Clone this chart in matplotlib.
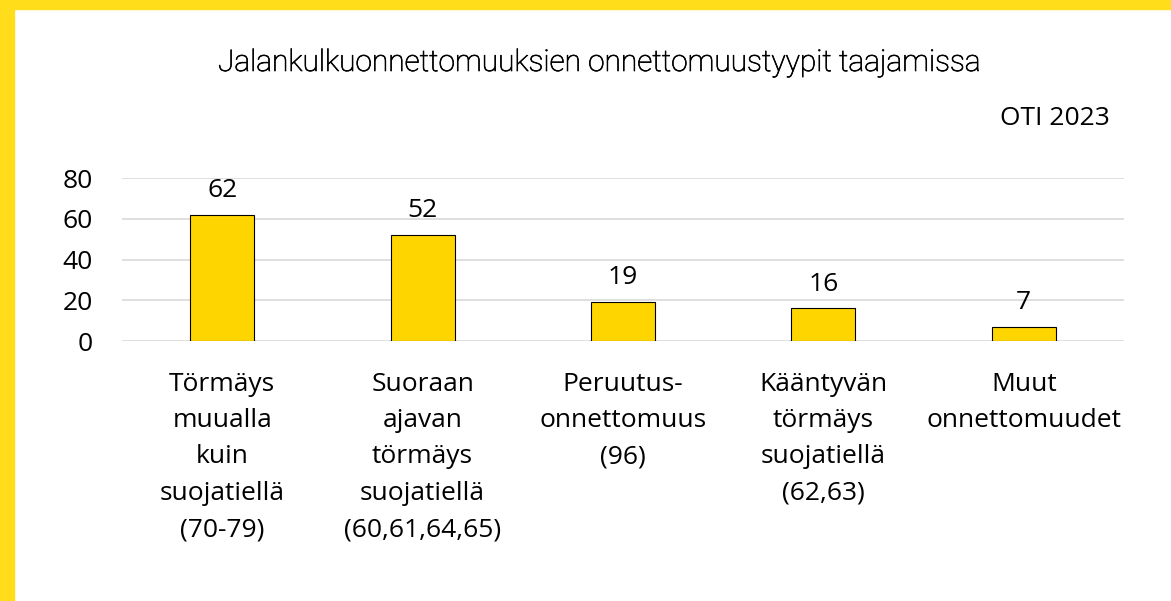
import matplotlib
matplotlib.use('Agg')
import matplotlib.pyplot as plt
import matplotlib.patheffects as pe
from matplotlib.patches import Rectangle

categories = ['Törmäys\nmuualla\nkuin\nsuojatiellä\n(70-79)',
              'Suoraan\najavan\ntörmäys\nsuojatiellä\n(60,61,64,65)',
              'Peruutus-\nonnettomuus\n(96)',
              'Kääntyvän\ntörmäys\nsuojatiellä\n(62,63)',
              'Muut\nonnettomuudet']
values = [62, 52, 19, 16, 7]
yticks = [0, 20, 40, 60, 80]

plt.rcParams['font.family'] = ['Open Sans', 'DejaVu Sans']

fig = plt.figure(figsize=(11.71, 6.01), dpi=100)
ax = fig.add_axes([122/1171, 1 - 341/601, (1124-122)/1171, (341-178)/601])

x = range(len(values))
bars = ax.bar(x, values, width=0.32, color='#FFD500', edgecolor='black', linewidth=0.8, zorder=3)
for i, v in enumerate(values):
    ax.annotate(str(v), (i, v), xytext=(0, 8.5), textcoords='offset points',
                ha='center', va='bottom', fontsize=19)

ax.set_xlim(-0.5, len(values) - 0.5)
ax.set_ylim(0, 80)
ax.set_yticks(yticks)
ax.set_xticks(list(x))
ax.set_xticklabels(categories, fontsize=19, linespacing=1.6)
ax.tick_params(axis='y', length=0, pad=21, labelsize=19)
ax.tick_params(axis='x', length=0, pad=22)
ax.grid(axis='y', color='#D9D9D9', linewidth=1.2, zorder=0)
for s in ax.spines.values():
    s.set_visible(False)

fig.text(600/1171, 1 - 63/601, 'Jalankulkuonnettomuuksien onnettomuustyypit taajamissa',
         ha='center', va='center', fontsize=21.5, family='Roboto', weight='light',
         color='black', path_effects=[pe.withStroke(linewidth=0.5, foreground='black')])
fig.text(1110/1171, 1 - 118/601, 'OTI 2023', ha='right', va='center', fontsize=19)

# yellow frame at left and top
fig.patches.append(Rectangle((0, 0), 14/1171, 1, transform=fig.transFigure,
                             color='#FFDD1A', zorder=0))
fig.patches.append(Rectangle((0, 1 - 9/601), 1, 9/601, transform=fig.transFigure,
                             color='#FFDD1A', zorder=0))

fig.savefig('out.png', dpi=100)
